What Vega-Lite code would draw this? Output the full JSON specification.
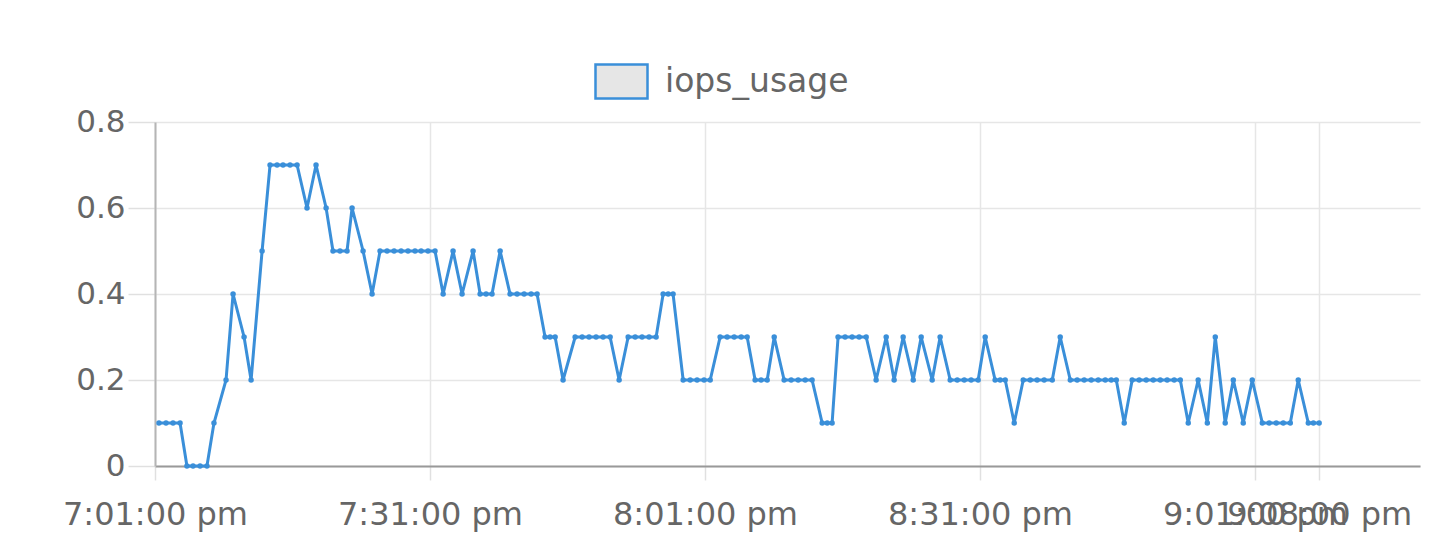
{
  "$schema": "https://vega.github.io/schema/vega-lite/v6.json",
  "autosize": "none",
  "width": 1265,
  "height": 344,
  "padding": {"left": 155, "top": 122, "right": 29, "bottom": 73},
  "background": "white",
  "config": {
    "view": {"stroke": null},
    "font": "DejaVu Sans",
    "axis": {
      "labelFont": "DejaVu Sans",
      "labelFontSize": 30,
      "labelColor": "#666666",
      "labelLimit": 0,
      "gridColor": "#e6e6e6",
      "gridWidth": 1.5,
      "tickColor": "#e0e0e0",
      "tickWidth": 1.5,
      "domainColor": "#aaaaaa",
      "domainWidth": 2,
      "title": null
    }
  },
  "data": {
    "values": [
      {"time": "2024-01-01T19:01:26", "iops_usage": 0.1},
      {"time": "2024-01-01T19:02:12", "iops_usage": 0.1},
      {"time": "2024-01-01T19:02:58", "iops_usage": 0.1},
      {"time": "2024-01-01T19:03:44", "iops_usage": 0.1},
      {"time": "2024-01-01T19:04:29", "iops_usage": 0},
      {"time": "2024-01-01T19:05:09", "iops_usage": 0},
      {"time": "2024-01-01T19:05:55", "iops_usage": 0},
      {"time": "2024-01-01T19:06:40", "iops_usage": 0},
      {"time": "2024-01-01T19:07:26", "iops_usage": 0.1},
      {"time": "2024-01-01T19:08:45", "iops_usage": 0.2},
      {"time": "2024-01-01T19:09:31", "iops_usage": 0.4},
      {"time": "2024-01-01T19:10:43", "iops_usage": 0.3},
      {"time": "2024-01-01T19:11:29", "iops_usage": 0.2},
      {"time": "2024-01-01T19:12:41", "iops_usage": 0.5},
      {"time": "2024-01-01T19:13:33", "iops_usage": 0.7},
      {"time": "2024-01-01T19:14:19", "iops_usage": 0.7},
      {"time": "2024-01-01T19:14:58", "iops_usage": 0.7},
      {"time": "2024-01-01T19:15:44", "iops_usage": 0.7},
      {"time": "2024-01-01T19:16:30", "iops_usage": 0.7},
      {"time": "2024-01-01T19:17:35", "iops_usage": 0.6},
      {"time": "2024-01-01T19:18:34", "iops_usage": 0.7},
      {"time": "2024-01-01T19:19:40", "iops_usage": 0.6},
      {"time": "2024-01-01T19:20:25", "iops_usage": 0.5},
      {"time": "2024-01-01T19:21:11", "iops_usage": 0.5},
      {"time": "2024-01-01T19:21:57", "iops_usage": 0.5},
      {"time": "2024-01-01T19:22:30", "iops_usage": 0.6},
      {"time": "2024-01-01T19:23:42", "iops_usage": 0.5},
      {"time": "2024-01-01T19:24:41", "iops_usage": 0.4},
      {"time": "2024-01-01T19:25:33", "iops_usage": 0.5},
      {"time": "2024-01-01T19:26:19", "iops_usage": 0.5},
      {"time": "2024-01-01T19:27:05", "iops_usage": 0.5},
      {"time": "2024-01-01T19:27:51", "iops_usage": 0.5},
      {"time": "2024-01-01T19:28:36", "iops_usage": 0.5},
      {"time": "2024-01-01T19:29:22", "iops_usage": 0.5},
      {"time": "2024-01-01T19:30:02", "iops_usage": 0.5},
      {"time": "2024-01-01T19:30:47", "iops_usage": 0.5},
      {"time": "2024-01-01T19:31:33", "iops_usage": 0.5},
      {"time": "2024-01-01T19:32:26", "iops_usage": 0.4},
      {"time": "2024-01-01T19:33:31", "iops_usage": 0.5},
      {"time": "2024-01-01T19:34:30", "iops_usage": 0.4},
      {"time": "2024-01-01T19:35:42", "iops_usage": 0.5},
      {"time": "2024-01-01T19:36:28", "iops_usage": 0.4},
      {"time": "2024-01-01T19:37:07", "iops_usage": 0.4},
      {"time": "2024-01-01T19:37:46", "iops_usage": 0.4},
      {"time": "2024-01-01T19:38:39", "iops_usage": 0.5},
      {"time": "2024-01-01T19:39:44", "iops_usage": 0.4},
      {"time": "2024-01-01T19:40:30", "iops_usage": 0.4},
      {"time": "2024-01-01T19:41:16", "iops_usage": 0.4},
      {"time": "2024-01-01T19:42:02", "iops_usage": 0.4},
      {"time": "2024-01-01T19:42:41", "iops_usage": 0.4},
      {"time": "2024-01-01T19:43:33", "iops_usage": 0.3},
      {"time": "2024-01-01T19:44:06", "iops_usage": 0.3},
      {"time": "2024-01-01T19:44:39", "iops_usage": 0.3},
      {"time": "2024-01-01T19:45:31", "iops_usage": 0.2},
      {"time": "2024-01-01T19:46:50", "iops_usage": 0.3},
      {"time": "2024-01-01T19:47:36", "iops_usage": 0.3},
      {"time": "2024-01-01T19:48:21", "iops_usage": 0.3},
      {"time": "2024-01-01T19:49:07", "iops_usage": 0.3},
      {"time": "2024-01-01T19:49:53", "iops_usage": 0.3},
      {"time": "2024-01-01T19:50:39", "iops_usage": 0.3},
      {"time": "2024-01-01T19:51:38", "iops_usage": 0.2},
      {"time": "2024-01-01T19:52:37", "iops_usage": 0.3},
      {"time": "2024-01-01T19:53:23", "iops_usage": 0.3},
      {"time": "2024-01-01T19:54:08", "iops_usage": 0.3},
      {"time": "2024-01-01T19:54:54", "iops_usage": 0.3},
      {"time": "2024-01-01T19:55:40", "iops_usage": 0.3},
      {"time": "2024-01-01T19:56:26", "iops_usage": 0.4},
      {"time": "2024-01-01T19:56:59", "iops_usage": 0.4},
      {"time": "2024-01-01T19:57:31", "iops_usage": 0.4},
      {"time": "2024-01-01T19:58:37", "iops_usage": 0.2},
      {"time": "2024-01-01T19:59:23", "iops_usage": 0.2},
      {"time": "2024-01-01T20:00:08", "iops_usage": 0.2},
      {"time": "2024-01-01T20:00:54", "iops_usage": 0.2},
      {"time": "2024-01-01T20:01:34", "iops_usage": 0.2},
      {"time": "2024-01-01T20:02:39", "iops_usage": 0.3},
      {"time": "2024-01-01T20:03:25", "iops_usage": 0.3},
      {"time": "2024-01-01T20:04:11", "iops_usage": 0.3},
      {"time": "2024-01-01T20:04:57", "iops_usage": 0.3},
      {"time": "2024-01-01T20:05:36", "iops_usage": 0.3},
      {"time": "2024-01-01T20:06:28", "iops_usage": 0.2},
      {"time": "2024-01-01T20:07:07", "iops_usage": 0.2},
      {"time": "2024-01-01T20:07:47", "iops_usage": 0.2},
      {"time": "2024-01-01T20:08:33", "iops_usage": 0.3},
      {"time": "2024-01-01T20:09:38", "iops_usage": 0.2},
      {"time": "2024-01-01T20:10:24", "iops_usage": 0.2},
      {"time": "2024-01-01T20:11:10", "iops_usage": 0.2},
      {"time": "2024-01-01T20:11:56", "iops_usage": 0.2},
      {"time": "2024-01-01T20:12:41", "iops_usage": 0.2},
      {"time": "2024-01-01T20:13:47", "iops_usage": 0.1},
      {"time": "2024-01-01T20:14:20", "iops_usage": 0.1},
      {"time": "2024-01-01T20:14:52", "iops_usage": 0.1},
      {"time": "2024-01-01T20:15:31", "iops_usage": 0.3},
      {"time": "2024-01-01T20:16:17", "iops_usage": 0.3},
      {"time": "2024-01-01T20:17:03", "iops_usage": 0.3},
      {"time": "2024-01-01T20:17:49", "iops_usage": 0.3},
      {"time": "2024-01-01T20:18:35", "iops_usage": 0.3},
      {"time": "2024-01-01T20:19:40", "iops_usage": 0.2},
      {"time": "2024-01-01T20:20:46", "iops_usage": 0.3},
      {"time": "2024-01-01T20:21:38", "iops_usage": 0.2},
      {"time": "2024-01-01T20:22:37", "iops_usage": 0.3},
      {"time": "2024-01-01T20:23:43", "iops_usage": 0.2},
      {"time": "2024-01-01T20:24:35", "iops_usage": 0.3},
      {"time": "2024-01-01T20:25:47", "iops_usage": 0.2},
      {"time": "2024-01-01T20:26:39", "iops_usage": 0.3},
      {"time": "2024-01-01T20:27:45", "iops_usage": 0.2},
      {"time": "2024-01-01T20:28:31", "iops_usage": 0.2},
      {"time": "2024-01-01T20:29:17", "iops_usage": 0.2},
      {"time": "2024-01-01T20:30:02", "iops_usage": 0.2},
      {"time": "2024-01-01T20:30:48", "iops_usage": 0.2},
      {"time": "2024-01-01T20:31:34", "iops_usage": 0.3},
      {"time": "2024-01-01T20:32:39", "iops_usage": 0.2},
      {"time": "2024-01-01T20:33:12", "iops_usage": 0.2},
      {"time": "2024-01-01T20:33:45", "iops_usage": 0.2},
      {"time": "2024-01-01T20:34:44", "iops_usage": 0.1},
      {"time": "2024-01-01T20:35:43", "iops_usage": 0.2},
      {"time": "2024-01-01T20:36:29", "iops_usage": 0.2},
      {"time": "2024-01-01T20:37:14", "iops_usage": 0.2},
      {"time": "2024-01-01T20:38:00", "iops_usage": 0.2},
      {"time": "2024-01-01T20:38:53", "iops_usage": 0.2},
      {"time": "2024-01-01T20:39:45", "iops_usage": 0.3},
      {"time": "2024-01-01T20:40:51", "iops_usage": 0.2},
      {"time": "2024-01-01T20:41:36", "iops_usage": 0.2},
      {"time": "2024-01-01T20:42:22", "iops_usage": 0.2},
      {"time": "2024-01-01T20:43:08", "iops_usage": 0.2},
      {"time": "2024-01-01T20:43:54", "iops_usage": 0.2},
      {"time": "2024-01-01T20:44:40", "iops_usage": 0.2},
      {"time": "2024-01-01T20:45:19", "iops_usage": 0.2},
      {"time": "2024-01-01T20:45:52", "iops_usage": 0.2},
      {"time": "2024-01-01T20:46:44", "iops_usage": 0.1},
      {"time": "2024-01-01T20:47:36", "iops_usage": 0.2},
      {"time": "2024-01-01T20:48:22", "iops_usage": 0.2},
      {"time": "2024-01-01T20:49:08", "iops_usage": 0.2},
      {"time": "2024-01-01T20:49:54", "iops_usage": 0.2},
      {"time": "2024-01-01T20:50:40", "iops_usage": 0.2},
      {"time": "2024-01-01T20:51:25", "iops_usage": 0.2},
      {"time": "2024-01-01T20:52:11", "iops_usage": 0.2},
      {"time": "2024-01-01T20:52:51", "iops_usage": 0.2},
      {"time": "2024-01-01T20:53:43", "iops_usage": 0.1},
      {"time": "2024-01-01T20:54:48", "iops_usage": 0.2},
      {"time": "2024-01-01T20:55:48", "iops_usage": 0.1},
      {"time": "2024-01-01T20:56:40", "iops_usage": 0.3},
      {"time": "2024-01-01T20:57:45", "iops_usage": 0.1},
      {"time": "2024-01-01T20:58:38", "iops_usage": 0.2},
      {"time": "2024-01-01T20:59:43", "iops_usage": 0.1},
      {"time": "2024-01-01T21:00:42", "iops_usage": 0.2},
      {"time": "2024-01-01T21:01:48", "iops_usage": 0.1},
      {"time": "2024-01-01T21:02:33", "iops_usage": 0.1},
      {"time": "2024-01-01T21:03:19", "iops_usage": 0.1},
      {"time": "2024-01-01T21:04:05", "iops_usage": 0.1},
      {"time": "2024-01-01T21:04:51", "iops_usage": 0.1},
      {"time": "2024-01-01T21:05:43", "iops_usage": 0.2},
      {"time": "2024-01-01T21:06:49", "iops_usage": 0.1},
      {"time": "2024-01-01T21:07:22", "iops_usage": 0.1},
      {"time": "2024-01-01T21:08:00", "iops_usage": 0.1}
    ]
  },
  "encoding": {
    "x": {
      "field": "time",
      "type": "temporal",
      "scale": {
        "domain": [
          {"year": 2024, "month": 1, "date": 1, "hours": 19, "minutes": 1, "seconds": 0},
          {"year": 2024, "month": 1, "date": 1, "hours": 21, "minutes": 19, "seconds": 0}
        ]
      },
      "axis": {
        "values": [
          {"year": 2024, "month": 1, "date": 1, "hours": 19, "minutes": 1},
          {"year": 2024, "month": 1, "date": 1, "hours": 19, "minutes": 31},
          {"year": 2024, "month": 1, "date": 1, "hours": 20, "minutes": 1},
          {"year": 2024, "month": 1, "date": 1, "hours": 20, "minutes": 31},
          {"year": 2024, "month": 1, "date": 1, "hours": 21, "minutes": 1},
          {"year": 2024, "month": 1, "date": 1, "hours": 21, "minutes": 8}
        ],
        "labelExpr": "lower(timeFormat(datum.value, '%-I:%M:%S %p'))",
        "labelOverlap": false,
        "labelFlush": false,
        "labelBound": false,
        "labelLimit": 0,
        "labelFontSize": 32,
        "tickSize": 14,
        "labelPadding": 19,
        "domainColor": "#999999"
      }
    },
    "y": {
      "field": "iops_usage",
      "type": "quantitative",
      "scale": {"domain": [0, 0.8], "nice": false},
      "axis": {
        "values": [0, 0.2, 0.4, 0.6, 0.8],
        "format": "~g",
        "tickSize": 27,
        "labelPadding": 3,
        "labelFontSize": 31,
        "domainColor": "#b5b5b5"
      }
    }
  },
  "layer": [
    {
      "mark": {"type": "line", "strokeWidth": 3},
      "encoding": {
        "stroke": {
          "datum": "iops_usage",
          "type": "nominal",
          "scale": {"range": ["#3a8fd9"]},
          "legend": {
            "title": null,
            "orient": "none",
            "legendX": 439,
            "legendY": -68,
            "padding": 0,
            "labelFont": "DejaVu Sans",
            "labelFontSize": 33,
            "labelColor": "#666666",
            "labelOffset": 16,
            "labelLimit": 0,
            "symbolType": "M-1,-0.65L1,-0.65L1,0.65L-1,0.65Z",
            "symbolSize": 2704,
            "symbolFillColor": "#e6e6e6",
            "symbolStrokeColor": "#5590c4",
            "symbolStrokeWidth": 2.5,
            "encode": {
              "symbols": {
                "enter": {
                  "fill": {"value": "#e6e6e6"},
                  "stroke": {"value": "#5590c4"},
                  "strokeWidth": {"value": 2.5}
                },
                "update": {
                  "fill": {"value": "#e6e6e6"},
                  "stroke": {"value": "#5590c4"},
                  "strokeWidth": {"value": 2.5}
                }
              }
            }
          }
        }
      }
    },
    {
      "mark": {"type": "point", "filled": true, "size": 30, "color": "#3a8fd9", "opacity": 1}
    }
  ]
}
